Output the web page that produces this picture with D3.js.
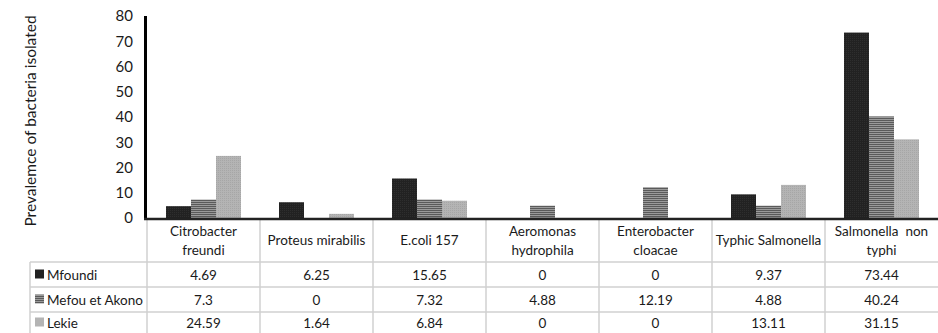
<!DOCTYPE html>
<html>
<head>
<meta charset="utf-8">
<script src="https://cdn.jsdelivr.net/npm/d3@7"></script>
<style>
  body { margin: 0; background: #fff; }
  text { font-family: Lato, "Open Sans", sans-serif; fill: #1a1a1a; }
</style>
</head>
<body>
<div id="chart"></div>
<script>
var categories = [["Citrobacter", "freundi"], ["Proteus mirabilis"], ["E.coli 157"],
    ["Aeromonas", "hydrophila"], ["Enterobacter", "cloacae"], ["Typhic Salmonella"],
    ["Salmonella  non", "typhi"]];
var seriesNames = ["Mfoundi", "Mefou et Akono", "Lekie"];
var mfoundi = [4.69, 6.25, 15.65, 0, 0, 9.37, 73.44];
var mefou = [7.3, 0, 7.32, 4.88, 12.19, 4.88, 40.24];
var lekie = [24.59, 1.64, 6.84, 0, 0, 13.11, 31.15];
var yTicks = [0, 10, 20, 30, 40, 50, 60, 70, 80];

var series = [mfoundi, mefou, lekie];
var width = 938, height = 333;
var plotLeft = 147, plotRight = 938, plotTop = 16, plotBottom = 218;
var tableLeft = 30;
var rowLines = [262, 287, 312, 333];

var svg = d3.select("#chart").append("svg")
    .attr("width", width).attr("height", height);

var defs = svg.append("defs");
var pDark = defs.append("pattern").attr("id", "pDark").attr("patternUnits", "userSpaceOnUse")
    .attr("width", 2).attr("height", 2);
pDark.append("rect").attr("width", 2).attr("height", 2).attr("fill", "#222");
pDark.append("rect").attr("width", 1).attr("height", 1).attr("fill", "#2e2e2e");

var pStripe = defs.append("pattern").attr("id", "pStripe").attr("patternUnits", "userSpaceOnUse")
    .attr("width", 4).attr("height", 2);
pStripe.append("rect").attr("width", 4).attr("height", 2).attr("fill", "#9a9a9a");
pStripe.append("rect").attr("width", 4).attr("height", 1).attr("fill", "#5a5a5a");

var pLight = defs.append("pattern").attr("id", "pLight").attr("patternUnits", "userSpaceOnUse")
    .attr("width", 2).attr("height", 2);
pLight.append("rect").attr("width", 2).attr("height", 2).attr("fill", "#b4b4b4");
pLight.append("rect").attr("width", 1).attr("height", 1).attr("fill", "#a6a6a6");

var fills = ["url(#pDark)", "url(#pStripe)", "url(#pLight)"];

var xScale = d3.scaleBand().domain(d3.range(categories.length))
    .range([plotLeft, plotRight]).paddingInner(0).paddingOuter(0);
var xInner = d3.scaleBand().domain(d3.range(series.length))
    .range([0, xScale.bandwidth()]).paddingOuter(0.76).paddingInner(0);
var yScale = d3.scaleLinear().domain([0, 80]).range([plotBottom, plotTop]);

// bars
series.forEach(function (vals, s) {
    svg.append("g").selectAll("rect")
        .data(vals)
        .join("rect")
        .attr("x", function (d, i) { return xScale(i) + xInner(s); })
        .attr("width", xInner.bandwidth())
        .attr("y", function (d) { return yScale(d); })
        .attr("height", function (d) { return plotBottom - yScale(d); })
        .attr("fill", fills[s]);
});

// y axis
var yAxis = d3.axisLeft(yScale).tickValues(yTicks).tickSize(0).tickPadding(13);
var yG = svg.append("g").attr("transform", "translate(" + (plotLeft - 1) + ",0)").call(yAxis);
yG.select(".domain").remove();
yG.selectAll("text").style("font-size", "15px").style("font-family", "Lato, sans-serif");
svg.append("line").attr("x1", plotLeft - 1.5).attr("x2", plotLeft - 1.5)
    .attr("y1", plotTop).attr("y2", plotBottom + 1)
    .attr("stroke", "#000").attr("stroke-width", 3);

svg.append("text")
    .attr("transform", "translate(36," + ((plotTop + plotBottom) / 2 + 4) + ") rotate(-90)")
    .attr("text-anchor", "middle")
    .style("font-size", "15.5px")
    .text("Prevalemce of bacteria isolated");

// table grid
var grid = svg.append("g").attr("stroke", "#d0d0d0").attr("stroke-width", 1.5);
d3.range(categories.length).forEach(function (i) {
    if (i > 0) {
        grid.append("line").attr("x1", xScale(i)).attr("x2", xScale(i))
            .attr("y1", plotBottom).attr("y2", height);
    }
});
grid.append("line").attr("x1", plotLeft).attr("x2", plotLeft).attr("y1", plotBottom).attr("y2", height);
grid.append("line").attr("x1", tableLeft).attr("x2", tableLeft).attr("y1", rowLines[0]).attr("y2", height);
rowLines.slice(0, 3).forEach(function (y) {
    grid.append("line").attr("x1", tableLeft).attr("x2", plotRight).attr("y1", y).attr("y2", y);
});

// x axis line
svg.append("line").attr("x1", plotLeft - 3).attr("x2", plotRight)
    .attr("y1", plotBottom + 1).attr("y2", plotBottom + 1)
    .attr("stroke", "#222").attr("stroke-width", 2.5);

// header cells
categories.forEach(function (lines, i) {
    var cx = xScale(i) + xScale.bandwidth() / 2;
    var mid = (plotBottom + rowLines[0]) / 2;
    var t = svg.append("text").attr("text-anchor", "middle").style("font-size", "13.5px");
    lines.forEach(function (ln, k) {
        t.append("tspan").attr("x", cx)
            .attr("y", mid + 5 + (k - (lines.length - 1) / 2) * 19)
            .attr("xml:space", "preserve")
            .text(ln);
    });
});

// data rows
var legendFill = ["#222", "#777", "#b4b4b4"];
series.forEach(function (vals, s) {
    var yMid = (rowLines[s] + rowLines[s + 1]) / 2 + 5;
    svg.append("rect").attr("x", tableLeft + 5).attr("y", yMid - 10)
        .attr("width", 9).attr("height", 9).attr("fill", s === 1 ? fills[1] : legendFill[s]);
    svg.append("text").attr("x", tableLeft + 17).attr("y", yMid)
        .style("font-size", "13.5px").text(seriesNames[s]);
    svg.append("g").selectAll("text")
        .data(vals)
        .join("text")
        .attr("x", function (d, i) { return xScale(i) + xScale.bandwidth() / 2; })
        .attr("y", yMid)
        .attr("text-anchor", "middle")
        .style("font-size", "13.5px")
        .text(function (d) { return d; });
});
</script>
</body>
</html>
